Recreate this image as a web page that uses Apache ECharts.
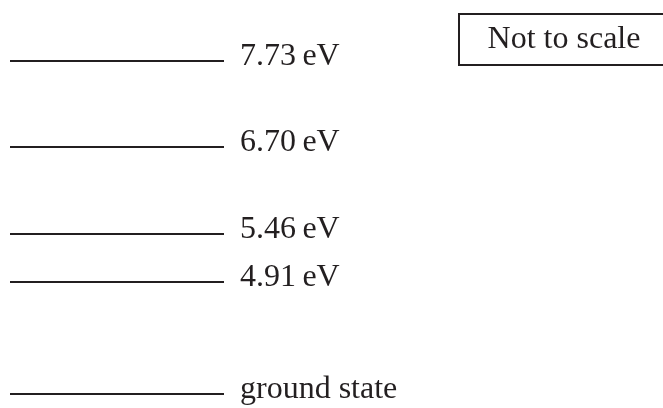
<!DOCTYPE html>
<html>
<head>
<meta charset="utf-8">
<script src="https://cdn.jsdelivr.net/npm/echarts@6/dist/echarts.min.js"></script>
<style>
html,body{margin:0;padding:0;background:#fff;}
#chart{width:663px;height:408px;}
</style>
</head>
<body>
<div id="chart"></div>
<script>
// Energy levels (eV) and their labels
const levelLabels = ['ground state', '4.91\u2009eV', '5.46\u2009eV', '6.70\u2009eV', '7.73\u2009eV'];
const levelEnergies = [0, 4.91, 5.46, 6.70, 7.73];
// Schematic drawing heights (diagram is not to scale)
const schematicHeights = [0, 1.12, 1.60, 2.47, 3.33];
const noteText = 'Not to scale';

const chart = echarts.init(document.getElementById('chart'));
const FONT = '"Liberation Serif", "Times New Roman", serif';
const INK = '#231f20';

const data = levelLabels.map((l, i) => [0, schematicHeights[i], levelEnergies[i], l]);

chart.setOption({
  animation: false,
  backgroundColor: '#fff',
  grid: { left: 10, right: 439, top: 61, bottom: 14 },
  xAxis: { type: 'value', min: 0, max: 1, show: false },
  yAxis: { type: 'value', min: 0, max: 3.33, show: false },
  series: [{
    type: 'custom',
    data: data,
    renderItem: function (params, api) {
      const y = api.value(1);
      const p0 = api.coord([0, y]);
      const p1 = api.coord([1, y]);
      const label = levelLabels[params.dataIndex];
      return {
        type: 'group',
        children: [
          { type: 'line', shape: { x1: p0[0], y1: p0[1], x2: p1[0], y2: p1[1] },
            style: { stroke: INK, lineWidth: 2 } },
          { type: 'text', x: p1[0] + 16, y: p1[1] - 4,
            style: { text: label, fill: INK, font: '32px ' + FONT,
                     textAlign: 'left', textVerticalAlign: 'middle' } }
        ]
      };
    }
  }],
  graphic: [
    { type: 'rect', shape: { x: 459, y: 14, width: 240, height: 51 },
      style: { fill: 'none', stroke: INK, lineWidth: 2 } },
    { type: 'text', x: 564, y: 40,
      style: { text: noteText, fill: INK, font: '32px ' + FONT,
               textAlign: 'center', textVerticalAlign: 'middle' } }
  ]
});
</script>
</body>
</html>
